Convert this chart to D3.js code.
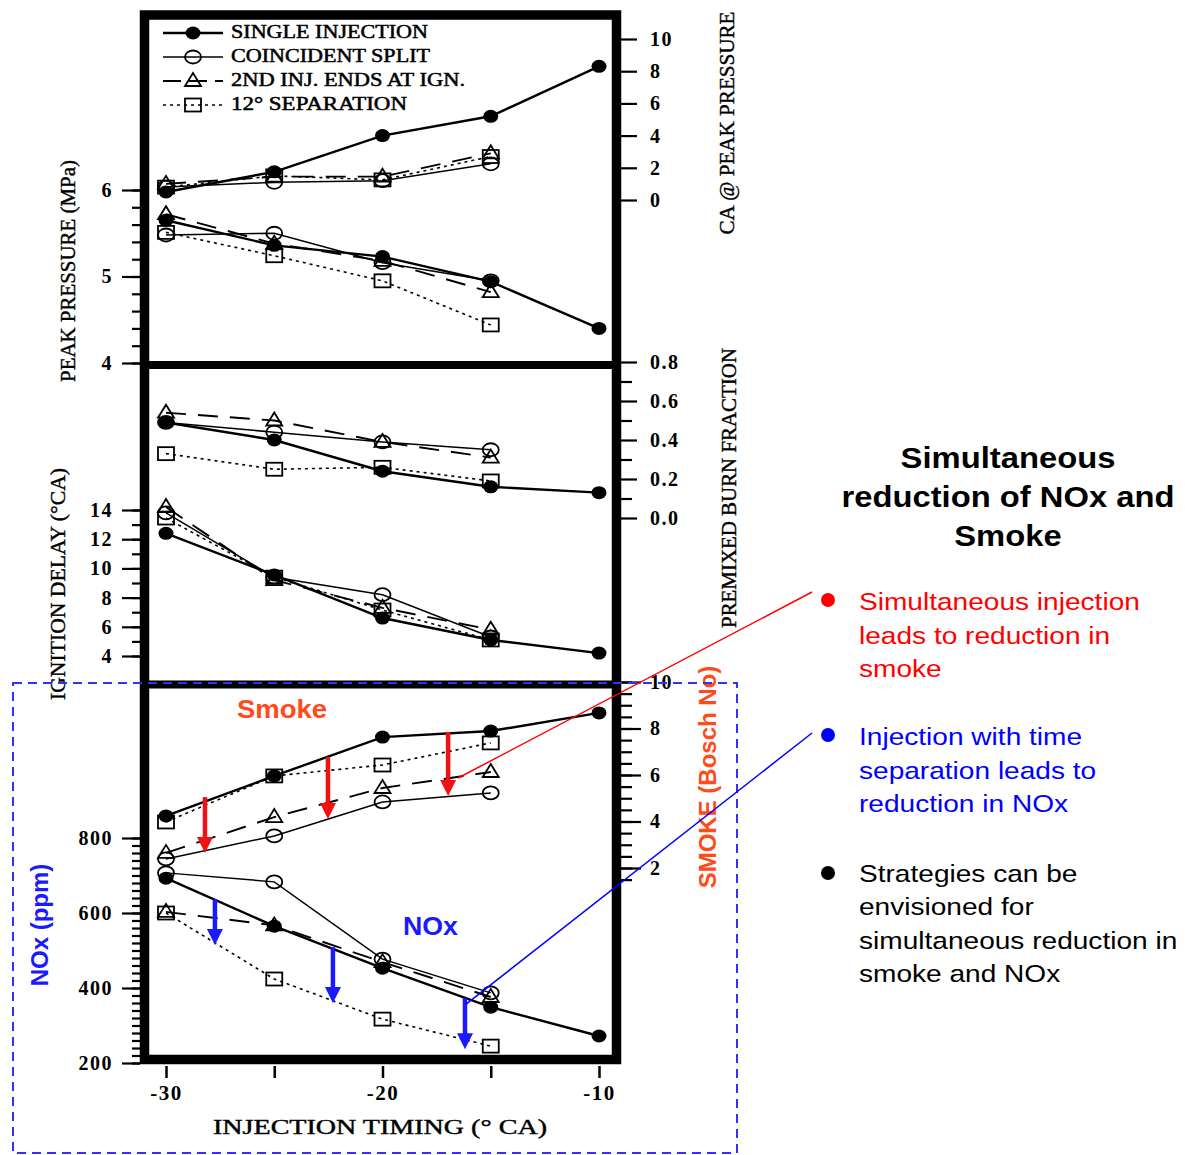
<!DOCTYPE html>
<html><head><meta charset="utf-8">
<script src="https://cdn.jsdelivr.net/npm/d3@7"></script>
<style>body{margin:0;background:#fff}svg{display:block}</style>
</head><body>
<svg id="c" width="1185" height="1155"></svg>
<script>
// ---------------- DATA ----------------
const timingSingle = [-30, -25, -20, -15, -10];
const timingSplit = [-30, -25, -20, -15];
const seriesNames = ["SINGLE INJECTION", "COINCIDENT SPLIT", "2ND INJ. ENDS AT IGN.", "12° SEPARATION"];
const xTicks = [-30, -25, -20, -15, -10];
const xTickLabels = ["-30", "", "-20", "", "-10"];

// Peak pressure (MPa)
const pressSingle = [5.65, 5.36, 5.23, 4.94, 4.40];
const pressCoincident = [5.48, 5.50, 5.16, 4.95];
const pressSecondEnds = [5.72, 5.38, 5.18, 4.82];
const pressSeparation = [5.51, 5.24, 4.95, 4.44];
// CA @ peak pressure
const caSingle = [0.5, 1.75, 4.0, 5.2, 8.3];
const caCoincident = [0.8, 1.1, 1.2, 2.25];
const caSecondEnds = [1.0, 1.45, 1.45, 2.9];
const caSeparation = [0.8, 1.5, 1.25, 2.7];
// Premixed burn fraction
const pbfSingle = [0.49, 0.40, 0.24, 0.16, 0.13];
const pbfCoincident = [0.49, 0.44, 0.39, 0.35];
const pbfSecondEnds = [0.54, 0.50, 0.39, 0.31];
const pbfSeparation = [0.33, 0.25, 0.26, 0.19];
// Ignition delay (deg CA)
const igdSingle = [12.4, 9.55, 6.6, 5.1, 4.2];
const igdCoincident = [13.8, 9.4, 8.2, 5.3];
const igdSecondEnds = [14.2, 9.2, 7.3, 5.8];
const igdSeparation = [13.45, 9.4, 7.15, 5.1];
// Smoke (Bosch No)
const smokeSingle = [4.24, 5.96, 7.63, 7.89, 8.67];
const smokeCoincident = [2.39, 3.38, 4.84, 5.23];
const smokeSecondEnds = [2.65, 4.19, 5.44, 6.13];
const smokeSeparation = [3.98, 5.96, 6.43, 7.38];
// NOx (ppm)
const noxSingle = [693, 565, 453, 349, 272];
const noxCoincident = [707, 683, 477, 387];
const noxSecondEnds = [603, 567, 469, 376];
const noxSeparation = [600, 424, 317, 245];

// Annotation arrows
const smokeArrowTiming = [-28.2, -22.52, -16.97];
const smokeArrowFrom = [5.05, 6.77, 7.85];
const smokeArrowTo = [2.65, 4.11, 5.10];
const noxArrowTiming = [-27.74, -22.29, -16.19];
const noxArrowFrom = [637, 509, 373];
const noxArrowTo = [515, 360, 237];

const titleLines = ["Simultaneous", "reduction of NOx and", "Smoke"];
const bulletRed = ["Simultaneous injection", "leads to reduction in", "smoke"];
const bulletBlue = ["Injection with time", "separation leads to", "reduction in NOx"];
const bulletBlack = ["Strategies can be", "envisioned for", "simultaneous reduction in", "smoke and NOx"];

// ---------------- SCALES ----------------
const svg = d3.select("#c");
const x = d3.scaleLinear().domain([-30, -10]).range([166, 599]);
const yPress = d3.scaleLinear().domain([4, 6]).range([363, 190]);
const yCA = d3.scaleLinear().domain([0, 10]).range([200, 39]);
const yPbf = d3.scaleLinear().domain([0, 0.8]).range([518, 362]);
const yIgd = d3.scaleLinear().domain([4, 14]).range([656, 510]);
const yNox = d3.scaleLinear().domain([200, 800]).range([1063, 838]);
const ySmoke = d3.scaleLinear().domain([0, 10]).range([914.5, 682]);

const SERIF = "'Liberation Serif', 'Times New Roman', serif";
const NUMF = "'Liberation Serif', 'Times New Roman', serif";
const SANS = "'Liberation Sans', Arial, sans-serif";
const SMOKECOL = "#ff4a1a";
const BLUE = "#1a1aff";

const styles = [
  {w: 2.4, dash: null, m: "filled"},
  {w: 1.5, dash: null, m: "circle"},
  {w: 1.9, dash: "20,12", m: "triangle"},
  {w: 1.6, dash: "3,4", m: "square"}
];

function marker(g, type, cx, cy) {
  if (type === "filled") {
    g.append("ellipse").attr("cx", cx).attr("cy", cy).attr("rx", 7.5).attr("ry", 6.5).attr("fill", "#000");
  } else if (type === "circle") {
    g.append("ellipse").attr("cx", cx).attr("cy", cy).attr("rx", 8).attr("ry", 6.5)
      .attr("fill", "none").attr("stroke", "#000").attr("stroke-width", 1.8);
  } else if (type === "triangle") {
    g.append("path").attr("d", `M${cx},${cy - 8}L${cx + 8},${cy + 5}L${cx - 8},${cy + 5}Z`)
      .attr("fill", "none").attr("stroke", "#000").attr("stroke-width", 1.8);
  } else {
    g.append("rect").attr("x", cx - 8).attr("y", cy - 6.5).attr("width", 16).attr("height", 13)
      .attr("fill", "none").attr("stroke", "#000").attr("stroke-width", 1.8);
  }
}

function drawPanelSeries(yScale, arrs) {
  const g = svg.append("g");
  const timings = [timingSingle, timingSplit, timingSplit, timingSplit];
  arrs.forEach((vals, i) => {
    const pts = vals.map((v, j) => [x(timings[i][j]), yScale(v)]);
    const p = g.append("path").attr("d", d3.line()(pts)).attr("fill", "none")
      .attr("stroke", "#000").attr("stroke-width", styles[i].w);
    if (styles[i].dash) p.attr("stroke-dasharray", styles[i].dash);
  });
  [3, 2, 1, 0].forEach(i => {
    arrs[i].forEach((v, j) => marker(g, styles[i].m, x(timings[i][j]), yScale(v)));
  });
}

drawPanelSeries(yCA, [caSingle, caCoincident, caSecondEnds, caSeparation]);
drawPanelSeries(yPress, [pressSingle, pressCoincident, pressSecondEnds, pressSeparation]);
drawPanelSeries(yPbf, [pbfSingle, pbfCoincident, pbfSecondEnds, pbfSeparation]);
drawPanelSeries(yIgd, [igdSingle, igdCoincident, igdSecondEnds, igdSeparation]);
drawPanelSeries(ySmoke, [smokeSingle, smokeCoincident, smokeSecondEnds, smokeSeparation]);
drawPanelSeries(yNox, [noxSingle, noxCoincident, noxSecondEnds, noxSeparation]);

// ---------------- FRAME ----------------
svg.append("rect").attr("x", 144.5).attr("y", 15).attr("width", 472).attr("height", 1044.5)
  .attr("fill", "none").attr("stroke", "#000").attr("stroke-width", 9.5);
[365, 684.5].forEach(yy => svg.append("line").attr("x1", 140).attr("x2", 621).attr("y1", yy).attr("y2", yy)
  .attr("stroke", "#000").attr("stroke-width", 8));

// ---------------- AXES ----------------
function styleAxis(g, fs) {
  g.select(".domain").remove();
  g.selectAll(".tick line").attr("stroke", "#000").attr("stroke-width", 2.2);
  g.attr("font-family", NUMF).attr("font-size", fs).attr("font-weight", "bold");
  g.selectAll("text").attr("fill", "#000").attr("letter-spacing", 1.5);
}
function leftAxis(scale, majors, minors, fmt) {
  const gm = svg.append("g").attr("transform", "translate(140,0)")
    .call(d3.axisLeft(scale).tickValues(minors).tickSize(8).tickFormat(""));
  styleAxis(gm, 20);
  const g = svg.append("g").attr("transform", "translate(140,0)")
    .call(d3.axisLeft(scale).tickValues(majors).tickSize(18).tickPadding(9).tickFormat(fmt));
  styleAxis(g, 20);
}
function rightAxis(scale, majors, minors, fmt, len) {
  if (minors.length) {
    const gm = svg.append("g").attr("transform", "translate(621,0)")
      .call(d3.axisRight(scale).tickValues(minors).tickSize(11).tickFormat(""));
    styleAxis(gm, 20);
  }
  const g = svg.append("g").attr("transform", "translate(621,0)")
    .call(d3.axisRight(scale).tickValues(majors).tickSize(len).tickPadding(29 - len).tickFormat(fmt));
  styleAxis(g, 20);
}
leftAxis(yPress, [4, 5, 6], d3.range(4, 6.01, 0.2), d3.format("d"));
leftAxis(yIgd, [4, 6, 8, 10, 12, 14], d3.range(4, 14.01, 1), d3.format("d"));
leftAxis(yNox, [200, 400, 600, 800], d3.range(200, 800.1, 20), d3.format("d"));
rightAxis(yCA, [0, 2, 4, 6, 8, 10], [], d3.format("d"), 16);
rightAxis(yPbf, [0, 0.2, 0.4, 0.6, 0.8], [0.1, 0.3, 0.5, 0.7], d3.format(".1f"), 16);
rightAxis(ySmoke, [2, 4, 6, 8, 10], d3.range(1.5, 10.01, 0.5), d3.format("d"), 20);

const gx = svg.append("g").attr("transform", "translate(0,1066)")
  .call(d3.axisBottom(x).tickValues(xTicks).tickSize(12).tickPadding(7)
    .tickFormat((d, i) => xTickLabels[i]));
styleAxis(gx, 21);
gx.selectAll(".tick line").attr("stroke-width", 2.5);

// ---------------- AXIS TITLES ----------------
function rotLabel(txt, cx, cy, len, fs, fam, weight, col, useLen) {
  const t = svg.append("text").attr("transform", `translate(${cx},${cy}) rotate(-90)`)
    .attr("text-anchor", "middle").attr("font-family", fam).attr("font-size", fs)
    .attr("font-weight", weight).attr("fill", col).text(txt);
  if (useLen) t.attr("textLength", len).attr("lengthAdjust", "spacingAndGlyphs")
    .attr("stroke", col).attr("stroke-width", 0.4);
}
rotLabel("PEAK PRESSURE (MPa)", 75, 271, 222, 21, SERIF, "normal", "#000", true);
rotLabel("IGNITION DELAY (°CA)", 65, 584, 232, 21, SERIF, "normal", "#000", true);
rotLabel("CA @ PEAK PRESSURE", 734, 123, 223, 21, SERIF, "normal", "#000", true);
rotLabel("PREMIXED BURN FRACTION", 736, 488, 280, 21, SERIF, "normal", "#000", true);
rotLabel("NOx (ppm)", 48, 925, 125, 24, SANS, "bold", BLUE, false);
rotLabel("SMOKE (Bosch No)", 716, 777, 225, 24, SANS, "bold", SMOKECOL, false);

svg.append("text").attr("x", 380).attr("y", 1134).attr("text-anchor", "middle")
  .attr("font-family", SERIF).attr("font-size", 20).attr("textLength", 334)
  .attr("stroke", "#000").attr("stroke-width", 0.4)
  .attr("lengthAdjust", "spacingAndGlyphs").text("INJECTION TIMING (° CA)");

// ---------------- LEGEND ----------------
const legBase = [38, 62, 86, 110];
const legWidths = [197, 199, 234, 176];
seriesNames.forEach((name, i) => {
  const my = legBase[i] - 5;
  const l = svg.append("line").attr("x1", 163).attr("x2", 223).attr("y1", my).attr("y2", my)
    .attr("stroke", "#000").attr("stroke-width", styles[i].w);
  if (i === 2) l.attr("stroke-dasharray", "18,8");
  if (i === 3) l.attr("stroke-dasharray", "3,4");
  marker(svg.append("g"), styles[i].m, 193, my);
  svg.append("text").attr("x", 231).attr("y", legBase[i]).attr("font-family", SERIF)
    .attr("font-size", 18.5).attr("textLength", legWidths[i]).attr("lengthAdjust", "spacingAndGlyphs")
    .attr("stroke", "#000").attr("stroke-width", 0.5)
    .text(name);
});

// ---------------- ANNOTATIONS ----------------
function arrow(xp, y0, y1, col) {
  svg.append("line").attr("x1", xp).attr("x2", xp).attr("y1", y0).attr("y2", y1 - 12)
    .attr("stroke", col).attr("stroke-width", 4.5);
  svg.append("path").attr("d", `M${xp - 8},${y1 - 16}L${xp + 8},${y1 - 16}L${xp},${y1}Z`).attr("fill", col);
}
smokeArrowTiming.forEach((t, i) => arrow(x(t), ySmoke(smokeArrowFrom[i]), ySmoke(smokeArrowTo[i]), "#f01212"));
noxArrowTiming.forEach((t, i) => arrow(x(t), yNox(noxArrowFrom[i]), yNox(noxArrowTo[i]), BLUE));

svg.append("text").attr("transform", "translate(237,718) scale(1.1,1)").attr("font-family", SANS)
  .attr("font-weight", "bold").attr("font-size", 25).attr("fill", SMOKECOL).text("Smoke");
svg.append("text").attr("transform", "translate(403,935) scale(1.07,1)").attr("font-family", SANS)
  .attr("font-weight", "bold").attr("font-size", 25).attr("fill", BLUE).text("NOx");

// dashed box
svg.append("rect").attr("x", 13).attr("y", 683).attr("width", 724).attr("height", 470)
  .attr("fill", "none").attr("stroke", "#3030ff").attr("stroke-width", 2).attr("stroke-dasharray", "9,6");

// callout lines
svg.append("line").attr("x1", x(-16.51)).attr("y1", ySmoke(5.87)).attr("x2", 812).attr("y2", 592)
  .attr("stroke", "#ff0000").attr("stroke-width", 1.5);
svg.append("line").attr("x1", x(-16.14)).attr("y1", yNox(357)).attr("x2", 812).attr("y2", 733)
  .attr("stroke", "#0000ff").attr("stroke-width", 1.5);

// ---------------- RIGHT TEXT ----------------
const titleBase = [468, 507, 546];
titleLines.forEach((t, i) => {
  svg.append("text").attr("transform", `translate(1008,${titleBase[i]}) scale(1.13,1)`)
    .attr("text-anchor", "middle").attr("font-family", SANS).attr("font-weight", "bold")
    .attr("font-size", 29).attr("fill", "#000").text(t);
});
function bullet(lines, by, base, col) {
  svg.append("circle").attr("cx", 828).attr("cy", by).attr("r", 7).attr("fill", col);
  lines.forEach((t, i) => {
    svg.append("text").attr("transform", `translate(859,${base + i * 33.5}) scale(1.17,1)`)
      .attr("font-family", SANS).attr("font-size", 24).attr("fill", col).text(t);
  });
}
bullet(bulletRed, 600, 610, "#ff0000");
bullet(bulletBlue, 735, 745, "#0000ff");
bullet(bulletBlack, 873, 881.5, "#000");
</script>
</body></html>
